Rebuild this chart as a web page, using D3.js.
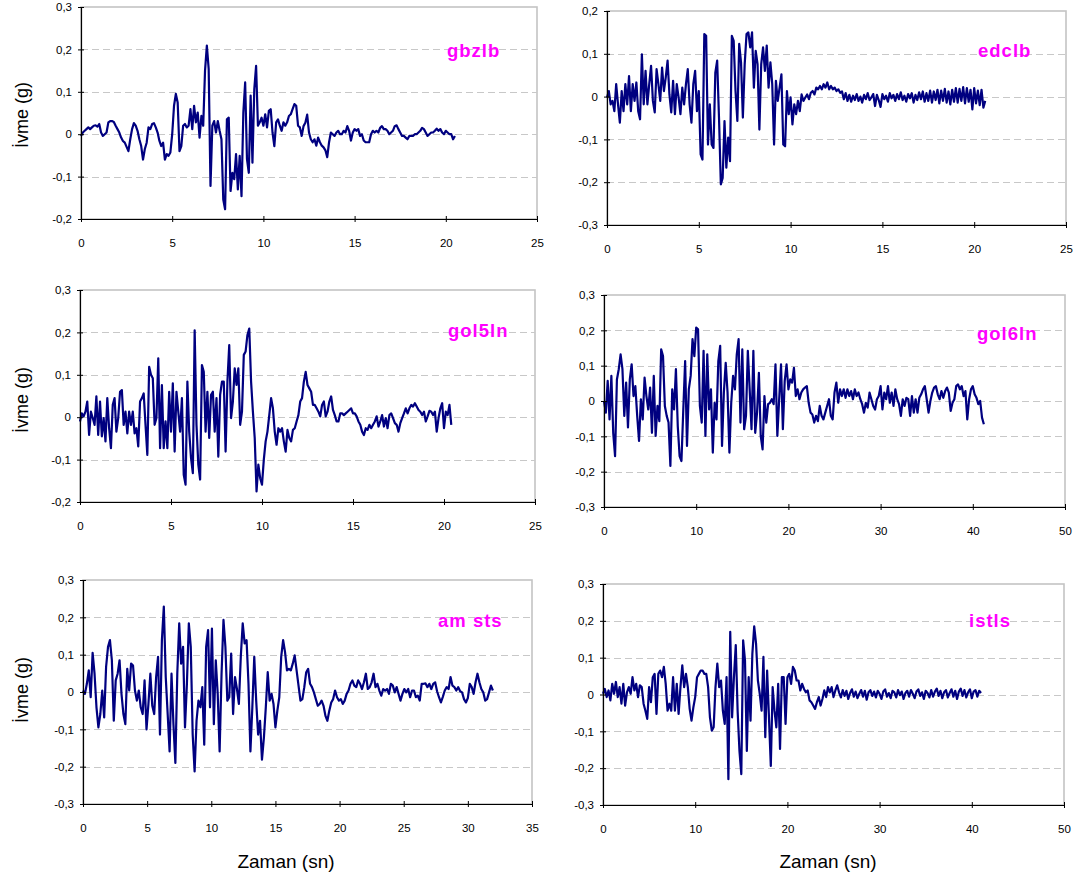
<!DOCTYPE html>
<html>
<head>
<meta charset="utf-8">
<script src="https://cdn.jsdelivr.net/npm/d3@7/dist/d3.min.js"></script>
<style>
  html, body { margin: 0; padding: 0; background: #fff; }
  svg { display: block; font-family: "Liberation Sans", Arial, sans-serif; }
</style>
</head>
<body>
<svg id="chart" width="1081" height="875"></svg>
<script>
// Ground acceleration records (g), uniformly sampled from t = 0
const gbzlb = [
  -0.004,0.004,0.008,0.012,0.016,0.012,0.016,0.02,0.021,0.018,
  0.024,0.004,-0.004,0,0.004,0.028,0.031,0.031,0.029,0.02,
  0.012,0.004,-0.008,-0.016,-0.02,-0.03,-0.04,-0.012,0.012,0.026,
  0.02,0.008,-0.012,-0.028,-0.06,-0.035,-0.02,0.016,0.012,0.024,
  0.026,0.016,0.004,-0.016,-0.028,-0.02,-0.06,-0.047,-0.051,-0.043,
  0,0.067,0.095,0.075,-0.04,-0.028,0.02,0.024,0.016,0.02,
  0.059,0.012,0.067,0.028,0.051,-0.008,0.043,0.02,0.15,0.209,
  0.154,-0.122,0.02,0.031,0.004,0.031,0.008,-0.012,-0.154,-0.177,
  0.035,0.039,-0.134,-0.091,-0.106,-0.047,-0.13,-0.051,-0.146,0.051,
  0.122,-0.059,-0.091,0.091,-0.067,0.106,0.161,0.02,0.028,0.039,
  0.02,0.047,0.016,0.055,0.059,0.004,-0.028,0.028,0.035,0.02,
  0.008,0.028,0.02,0.028,0.043,0.047,0.059,0.071,0.067,0.02,
  0.016,-0.004,0.019,0.027,0.046,0.004,-0.012,-0.019,-0.012,-0.027,
  -0.008,-0.019,-0.027,-0.031,-0.038,-0.054,-0.019,0.004,0,-0.004,
  0.004,0.008,0,0,0.008,0.004,0.019,0.008,-0.015,0.004,
  0.012,0.008,0.012,-0.004,0,-0.015,-0.019,-0.019,-0.019,0,
  0.008,0.004,0.008,0.004,0.015,0.019,0.012,0.012,0.008,0,
  0.004,0.008,0.019,0.021,0.012,0.004,-0.004,-0.004,-0.008,-0.012,
  -0.004,-0.004,-0.004,0,0,0.004,0.008,0.015,0.012,0.004,
  -0.004,0,0.004,0.004,0.008,0.013,0.008,0.012,0.004,0,
  0.008,0.004,0,0,-0.012,-0.004
];

const edclb = [
  -0.002,0.013,-0.018,-0.01,-0.034,0.029,-0.018,-0.061,0.013,-0.034,
  0.029,-0.018,0.048,-0.034,0.029,-0.01,0.033,-0.034,-0.053,0.099,
  -0.018,0.06,-0.018,0.029,0.072,-0.01,-0.037,0.064,0.029,-0.01,
  0.068,0.013,0.045,0.084,0.005,-0.037,0.037,-0.041,0.029,-0.002,
  -0.041,0.021,-0.018,0.029,0.064,-0.018,-0.061,0.029,0.06,-0.034,
  0.013,-0.135,-0.147,0.146,0.142,-0.112,-0.018,-0.112,-0.12,0.056,
  0.084,-0.049,-0.205,-0.19,-0.057,-0.166,-0.096,-0.151,0.142,0.13,
  0.013,-0.057,0.123,0.08,-0.049,0.076,0.146,0.15,0.115,0.15,
  0.021,0.107,0.076,-0.077,0.076,0.115,0.06,0.119,0.021,0.08,
  0.029,-0.112,0.037,-0.01,0.021,0.052,-0.112,-0.116,0.013,-0.041,
  -0.002,-0.065,-0.018,-0.041,-0.01,-0.034,0.005,-0.01,-0.002,0.005,
  -0.006,0.009,0.013,0.005,0.021,0.017,0.025,0.017,0.029,0.021,
  0.033,0.017,0.025,0.017,0.021,0.013,0.017,0.009,
  0.012,-0.006,0.008,-0.01,0.004,-0.012,0.002,-0.008,0.006,-0.01,
  0.0,-0.014,0.004,-0.006,0.008,-0.008,-0.002,0.006,-0.022,0.004,
  -0.008,-0.024,0.006,-0.006,0.002,-0.012,0.008,-0.004,0.004,-0.01,
  0.006,-0.006,0.01,-0.008,0.002,-0.012,0.006,-0.004,0.008,-0.014,
  0.004,-0.008,0.01,-0.006,0.012,-0.012,0.008,-0.01,0.014,-0.014,
  0.012,-0.008,0.016,-0.016,0.014,-0.01,0.018,-0.014,0.012,-0.018,
  0.016,-0.012,0.02,-0.014,0.018,-0.01,0.022,-0.016,0.02,-0.012,
  0.016,-0.03,0.02,-0.016,0.014,-0.02,0.016,-0.026,-0.01
];

const gol5ln = [
  -0.01,0.009,0.002,0.013,0.037,-0.042,0.013,-0.002,-0.018,0.049,
  -0.042,0.037,-0.045,-0.002,-0.057,0.045,-0.026,-0.073,0.029,0.045,
  -0.034,-0.002,0.06,0.064,-0.018,0.013,-0.038,0.013,-0.018,0.013,
  -0.038,-0.026,-0.069,0.037,0.045,0.056,-0.018,-0.089,0.119,0.1,
  0.092,-0.018,-0.002,0.139,-0.073,0.076,-0.073,-0.01,-0.073,0.06,
  -0.034,0.08,-0.081,0.06,0.013,-0.034,0.045,-0.136,-0.159,0.084,
  -0.034,-0.096,-0.132,0.205,-0.018,-0.112,-0.147,0.123,0.107,-0.034,
  0.06,-0.049,0.053,0.06,-0.034,0.045,-0.093,0.053,0.084,0.084,
  -0.081,0.084,0.17,-0.002,0.037,0.115,0.076,0.115,-0.018,0.013,
  0.147,0.155,0.194,0.209,0.084,0.013,-0.049,-0.175,-0.112,-0.144,
  -0.159,-0.1,-0.057,-0.034,0.005,0.045,0.021,-0.034,-0.065,-0.026,
  -0.034,-0.026,-0.057,-0.081,-0.03,-0.049,-0.057,-0.03,-0.026,-0.01,
  0.005,0.037,0.045,0.084,0.107,0.076,0.068,0.06,0.029,0.029,
  0.021,0.013,0.002,0.029,0.037,0.002,0.013,0.037,0.049,0.017,
  0.005,-0.01,-0.01,0.009,0.009,0.005,0.009,0.013,0.017,0.021,
  0.009,0.009,0.002,-0.01,-0.018,-0.034,-0.042,-0.026,-0.03,-0.018,
  -0.026,-0.018,-0.01,0.002,-0.022,-0.01,0.005,-0.022,-0.002,-0.026,
  0.005,0.009,-0.002,-0.014,-0.018,-0.034,-0.014,-0.002,0.009,0.021,
  0.009,0.021,0.029,0.025,0.033,0.025,0.017,0.013,0.005,0.013,
  -0.01,0.002,0.015,0.013,0.005,0.013,-0.034,-0.002,0.021,0.033,
  -0.026,0.013,0.005,0.029,-0.018
];

const gol6ln = [
  0,-0.033,0.057,-0.052,0.071,-0.09,-0.156,0.061,0.09,0.132,
  0.09,-0.042,0.052,-0.075,0.061,0.104,0.014,0.042,-0.042,-0.113,
  0.005,-0.052,0.066,0.014,-0.024,0.038,-0.09,0.071,-0.099,-0.014,
  -0.057,0.146,0.127,-0.014,-0.042,-0.061,-0.184,0.033,-0.024,0.09,
  -0.071,-0.156,-0.17,-0.024,0.113,-0.127,0.033,0.071,0.175,0.127,
  0.208,0.203,-0.014,-0.061,0.142,-0.099,0.132,-0.024,0.033,-0.146,
  -0.005,-0.052,0.113,0.156,-0.127,0.024,0.108,0.024,-0.146,-0.005,
  0.071,0.033,0.132,0.175,-0.061,0.146,-0.08,-0.042,0.142,0.033,
  -0.08,0.142,-0.09,-0.033,0.08,-0.099,-0.137,0.014,-0.061,-0.009,
  -0.005,0.005,-0.009,0.104,-0.099,0.005,0.104,-0.08,0.057,0.104,
  0.033,0.061,0.052,0.094,0.014,0.033,0.005,0.024,0.033,0.038,
  0.042,-0.005,-0.033,-0.038,-0.061,-0.042,-0.057,-0.014,-0.042,-0.052,
  -0.033,-0.014,0.005,-0.042,-0.052,0.024,0.052,-0.005,0.033,0.014,
  0.033,0.009,0.033,0.014,0.028,0.005,0.033,0.014,0.024,0.005,
  -0.009,-0.033,-0.005,-0.019,0.024,0.005,-0.014,-0.024,0.005,0.014,
  0.042,-0.024,0.024,0.005,0.042,-0.005,0.024,-0.014,0.033,0.005,
  -0.009,-0.042,0.005,-0.014,0.009,0.005,-0.042,0.014,-0.033,0.005,
  -0.033,0.009,0.019,0.033,0.042,0.005,-0.033,0,0.024,0.038,
  0.042,0.019,0.005,0.028,0.009,0.028,0.038,0.024,-0.028,-0.005,
  0.005,0.042,0.047,0.033,0.042,0.014,0.028,-0.052,0.005,0.033,
  0.042,0.019,0.009,-0.009,0,-0.047,-0.066
];

const amsts = [
  0.004,-0.005,0.022,0.058,-0.014,0.105,0.049,-0.041,-0.095,-0.059,
  0.004,-0.068,0.067,0.121,0.139,0.085,-0.077,0.031,0.049,0.085,
  -0.005,-0.059,-0.086,0.062,0.004,0.076,0.071,0.004,-0.023,0.004,
  -0.041,-0.059,0.031,-0.1,-0.032,0.049,-0.037,-0.059,0.04,0.094,
  -0.114,0.139,0.229,0.04,-0.059,-0.159,0.049,-0.086,-0.19,0.049,
  0.184,0.076,0.121,-0.095,0.022,0.184,0.121,-0.114,-0.213,-0.077,
  -0.023,-0.041,0.013,-0.141,0.121,0.166,-0.041,0.17,-0.086,0.085,
  -0.005,-0.159,0.049,0.193,0.121,-0.023,-0.014,0.103,-0.059,0.04,
  0.008,-0.032,0.094,0.184,0.13,0.139,0.022,-0.159,-0.041,0.094,
  -0.023,-0.114,-0.077,-0.181,-0.123,-0.041,0.053,-0.023,-0.005,-0.032,
  -0.095,-0.05,-0.014,0.094,0.139,0.107,0.058,0.062,0.058,0.076,
  0.098,0.058,0.017,-0.023,-0.019,0.013,0.053,0.062,0.022,0.013,
  -0.001,-0.019,-0.037,-0.032,-0.023,-0.037,-0.064,-0.077,-0.05,-0.028,
  -0.019,0.004,-0.014,-0.023,-0.019,-0.032,-0.023,-0.005,0.004,0.022,
  0.031,0.017,0.013,0.031,0.022,0.008,0.026,0.049,0.008,0.013,
  0.026,0.049,0.013,0.022,0.004,-0.01,0.008,0.004,0.008,-0.005,
  0.022,0.017,-0.001,0.013,-0.005,-0.023,-0.005,0.008,-0.001,0.008,
  -0.014,0.004,0.004,-0.014,-0.01,-0.023,0.022,0.022,0.023,0.013,
  0.022,0.008,0.022,0.026,0.002,-0.014,-0.028,-0.013,0.004,0.013,
  0.008,0.04,0.017,0.013,0.004,0.013,0.002,-0.001,-0.019,-0.028,
  -0.016,0.022,0.013,-0.005,0.026,0.049,0.026,0.008,-0.001,-0.023,
  -0.019,-0.001,0.017,0.004
];

const istls = [
  0.002,0.015,-0.007,0.011,-0.016,0.029,0.002,0.034,-0.007,0.02,
  -0.025,0.029,-0.03,0.006,0.02,0.002,0.047,0.011,0.029,-0.007,
  0.025,0.02,-0.025,-0.044,-0.066,0.02,-0.021,0.047,0.056,-0.053,
  0.056,0.065,0.047,0.075,0.029,-0.044,-0.025,-0.044,0.047,-0.044,
  0.029,-0.053,0.02,0.079,0.02,0.056,0.02,-0.039,-0.071,-0.035,
  -0.007,0.047,0.056,0.065,0.065,0.056,0.056,0.02,-0.062,-0.098,
  -0.089,0.02,0.084,0.02,0.038,-0.044,-0.08,0.047,-0.23,0.17,
  -0.062,0.047,0.134,-0.044,-0.153,-0.216,0.147,0.093,-0.153,0.047,
  -0.071,0.111,0.185,0.138,0.038,0.002,-0.044,0.102,-0.116,0.065,
  -0.062,-0.194,0.02,-0.044,-0.089,0.029,-0.148,0.047,0.047,-0.08,
  0.047,0.056,0.029,0.075,0.065,0.038,0.038,0.011,0.029,0.015,
  0.006,0.011,-0.016,-0.021,-0.03,-0.039,-0.021,-0.007,-0.03,-0.012,
  0.011,-0.007,0.02,0.006,0.02,-0.007,0.011,0.025,
  0.006,-0.008,0.012,-0.004,0.01,-0.012,0.004,0.014,-0.006,0.008,
  -0.01,0.002,0.012,-0.006,0.01,-0.014,0.006,0.012,-0.004,0.008,
  -0.008,0.01,0.002,-0.012,0.008,0.014,-0.006,0.004,-0.01,0.01,
  0.006,-0.008,0.012,-0.002,0.008,-0.012,0.004,0.01,-0.006,0.012,
  0.002,-0.01,0.008,0.014,-0.004,0.006,-0.012,0.01,0.004,-0.008,
  0.012,-0.006,0.008,0.016,-0.004,0.01,-0.01,0.006,0.012,-0.008,
  0.004,0.014,-0.006,0.01,-0.012,0.008,0.016,-0.004,0.012,-0.008,
  0.006,0.014,-0.01,0.008,0.012,-0.006,0.01,0.004
];

// Sampling interval of each record (s)
const sampleStep = { gbzlb: 0.1, edclb: 0.1, gol5ln: 0.1, gol6ln: 0.2, amsts: 0.15, istls: 0.2 };

// Station captions as printed
const captions = { gbzlb: "gbzlb", edclb: "edclb", gol5ln: "gol5ln", gol6ln: "gol6ln", amsts: "am sts", istls: "istls" };

// Axis tick values
const timeTicks25 = [0, 5, 10, 15, 20, 25];
const timeTicks35 = [0, 5, 10, 15, 20, 25, 30, 35];
const timeTicks50 = [0, 10, 20, 30, 40, 50];
const accTicksA = [-0.2, -0.1, 0, 0.1, 0.2, 0.3];
const accTicksB = [-0.3, -0.2, -0.1, 0, 0.1, 0.2];
const accTicksC = [-0.3, -0.2, -0.1, 0, 0.1, 0.2, 0.3];

const yTitle = "İvme (g)";
const xTitle = "Zaman (sn)";

const records = { gbzlb, edclb, gol5ln, gol6ln, amsts, istls };

// Panel frames (pixel boxes of each plot area) and caption anchors
const panels = [
  { key: "gbzlb",  xt: timeTicks25, yt: accTicksA, left: 81,  right: 537,  top: 7,   bottom: 219, capX: 447, capY: 57 },
  { key: "edclb",  xt: timeTicks25, yt: accTicksB, left: 607, right: 1066, top: 11,  bottom: 225, capX: 978, capY: 57 },
  { key: "gol5ln", xt: timeTicks25, yt: accTicksA, left: 80,  right: 535,  top: 290, bottom: 502, capX: 448, capY: 337 },
  { key: "gol6ln", xt: timeTicks50, yt: accTicksC, left: 604, right: 1065, top: 295, bottom: 507, capX: 977, capY: 340 },
  { key: "amsts",  xt: timeTicks35, yt: accTicksC, left: 83,  right: 532,  top: 580, bottom: 804, capX: 438, capY: 627 },
  { key: "istls",  xt: timeTicks50, yt: accTicksC, left: 603, right: 1064, top: 584, bottom: 805, capX: 969, capY: 627 }
];

const fmtAcc = v => (Math.abs(v) < 1e-9 ? "0" : v.toFixed(1).replace(".", ","));

const svg = d3.select("#chart");
svg.append("rect").attr("width", 1081).attr("height", 875).attr("fill", "#fff");

panels.forEach(p => {
  const data = records[p.key];
  const dt = sampleStep[p.key];
  const x = d3.scaleLinear().domain([p.xt[0], p.xt[p.xt.length - 1]]).range([p.left, p.right]);
  const y = d3.scaleLinear().domain([p.yt[0], p.yt[p.yt.length - 1]]).range([p.bottom, p.top]);
  const g = svg.append("g");

  // plot-area frame
  g.append("rect")
    .attr("x", p.left).attr("y", p.top)
    .attr("width", p.right - p.left).attr("height", p.bottom - p.top)
    .attr("fill", "none").attr("stroke", "#c4c4c4").attr("stroke-width", 1.6);

  // dashed horizontal gridlines
  g.selectAll("line.grid")
    .data(p.yt.slice(1, -1))
    .join("line")
    .attr("x1", p.left).attr("x2", p.right)
    .attr("y1", d => Math.round(y(d)) + 0.5).attr("y2", d => Math.round(y(d)) + 0.5)
    .attr("stroke", "#c8c8c8").attr("stroke-width", 1)
    .attr("stroke-dasharray", "7,4");

  // acceleration trace
  const line = d3.line().x((d, i) => x(i * dt)).y(d => y(d));
  g.append("path")
    .datum(data)
    .attr("d", line)
    .attr("fill", "none")
    .attr("stroke", "#000080")
    .attr("stroke-width", 2.2)
    .attr("stroke-linejoin", "round");

  // axes
  const yAxis = g.append("g")
    .attr("transform", `translate(${p.left},0)`)
    .call(d3.axisLeft(y).tickValues(p.yt).tickFormat(fmtAcc).tickSizeOuter(0).tickSizeInner(3).tickPadding(6));
  const xAxis = g.append("g")
    .attr("transform", `translate(0,${p.bottom})`)
    .call(d3.axisBottom(x).tickValues(p.xt).tickFormat(d => d).tickSizeOuter(0).tickSizeInner(3).tickPadding(17));

  [yAxis, xAxis].forEach(a => {
    a.select(".domain").attr("stroke", "#000").attr("stroke-width", 1.2);
    a.selectAll(".tick text").attr("font-family", "Liberation Sans, Arial, sans-serif").attr("font-size", 11.5).attr("fill", "#000");
    a.selectAll(".tick line").attr("stroke", "#000");
  });
  yAxis.selectAll(".tick line").attr("x1", 3);
  xAxis.selectAll(".tick line").attr("y1", -3);

  // station caption
  g.append("text")
    .attr("x", p.capX).attr("y", p.capY)
    .attr("font-size", 18.5).attr("font-weight", "bold")
    .attr("letter-spacing", 1)
    .attr("fill", "#ff00ff")
    .style("white-space", "pre")
    .text(captions[p.key]);
});

// axis titles
[115, 400, 690].forEach(cy => {
  svg.append("text")
    .attr("transform", `translate(28,${cy}) rotate(-90)`)
    .attr("text-anchor", "middle")
    .attr("font-size", 18)
    .attr("fill", "#000")
    .text(yTitle);
});
[286, 828].forEach(cx => {
  svg.append("text")
    .attr("x", cx).attr("y", 868)
    .attr("text-anchor", "middle")
    .attr("font-size", 19)
    .attr("fill", "#000")
    .text(xTitle);
});
</script>
</body>
</html>
